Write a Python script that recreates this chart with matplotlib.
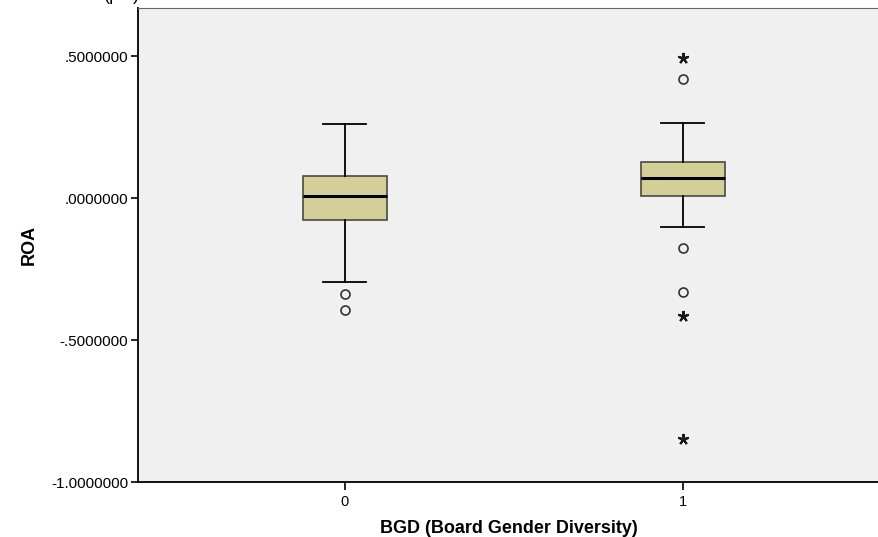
import matplotlib
matplotlib.use("Agg")
import matplotlib.pyplot as plt
from matplotlib.ticker import FixedLocator, FuncFormatter

plt.rcParams['font.family'] = ['Liberation Sans', 'DejaVu Sans']

# Group labels (BGD = 0 / 1)
groups = ["0", "1"]

# Five-number summaries of ROA per group
whisker_low = [-0.295, -0.102]
q1 = [-0.077, 0.0064]
medians = [0.0088, 0.0724]
q3 = [0.0795, 0.1254]
whisker_high = [0.262, 0.263]

# Outliers (circles) and extreme values (stars) per group
outliers = [[-0.339, -0.394], [0.420, -0.175, -0.330]]
extremes = [[], [0.492, -0.415, -0.847]]

y_ticks = [0.5, 0.0, -0.5, -1.0]

fig = plt.figure(figsize=(8.79, 5.37), dpi=100)
ax = fig.add_axes([138 / 879, 55 / 537, 741 / 879, 474 / 537])
ax.set_facecolor("#F0F0F0")

stats = []
for i, g in enumerate(groups):
    stats.append(dict(label=g, med=medians[i], q1=q1[i], q3=q3[i],
                      whislo=whisker_low[i], whishi=whisker_high[i], fliers=[]))

positions = list(range(len(groups)))
ax.bxp(stats, positions=positions, widths=0.25, showfliers=False,
       patch_artist=True,
       boxprops=dict(facecolor="#D4CF98", edgecolor="#4A4A40", linewidth=1.2),
       medianprops=dict(color="black", linewidth=2.2),
       whiskerprops=dict(color="black", linewidth=1.3),
       capprops=dict(color="black", linewidth=1.3),
       capwidths=0.127)

for i, pos in enumerate(positions):
    if outliers[i]:
        ax.plot([pos] * len(outliers[i]), outliers[i], linestyle="none",
                marker="o", markersize=6.5, markerfacecolor="none",
                markeredgecolor="#333333", markeredgewidth=1.2)
    if extremes[i]:
        ax.plot([pos] * len(extremes[i]), extremes[i], linestyle="none",
                marker=(5, 2, 0), markersize=8, color="#1a1a1a",
                markeredgewidth=1.5)

ax.set_xlim(-0.612, 1.580)
ax.set_ylim(-1.0, 0.6696)
ax.set_xticks(positions)
ax.set_xticklabels(groups, fontsize=10.5)
ax.yaxis.set_major_locator(FixedLocator(y_ticks))


def fmt(v, _):
    s = f"{v:.7f}"
    if s.startswith("-0."):
        s = "-" + s[2:]
    elif s.startswith("0."):
        s = s[1:]
    return s


ax.yaxis.set_major_formatter(FuncFormatter(fmt))
ax.tick_params(axis="y", labelsize=11, length=5, width=1.2, direction="out",
               pad=2)
ax.tick_params(axis="x", labelsize=10.5, length=6, width=1.2, direction="out",
               pad=3)

for side in ("left", "bottom"):
    ax.spines[side].set_color("black")
    ax.spines[side].set_linewidth(1.3)
ax.spines["top"].set_color("#666666")
ax.spines["right"].set_visible(False)

ax.set_xlabel("BGD (Board Gender Diversity)", fontsize=13, fontweight="bold",
              labelpad=8)
ax.set_ylabel("ROA", fontsize=13, fontweight="bold", labelpad=10)

fig.text(122 / 879, 1.008, "(pct)", fontsize=13, ha="center", va="center")

fig.savefig("out.png", dpi=100)
